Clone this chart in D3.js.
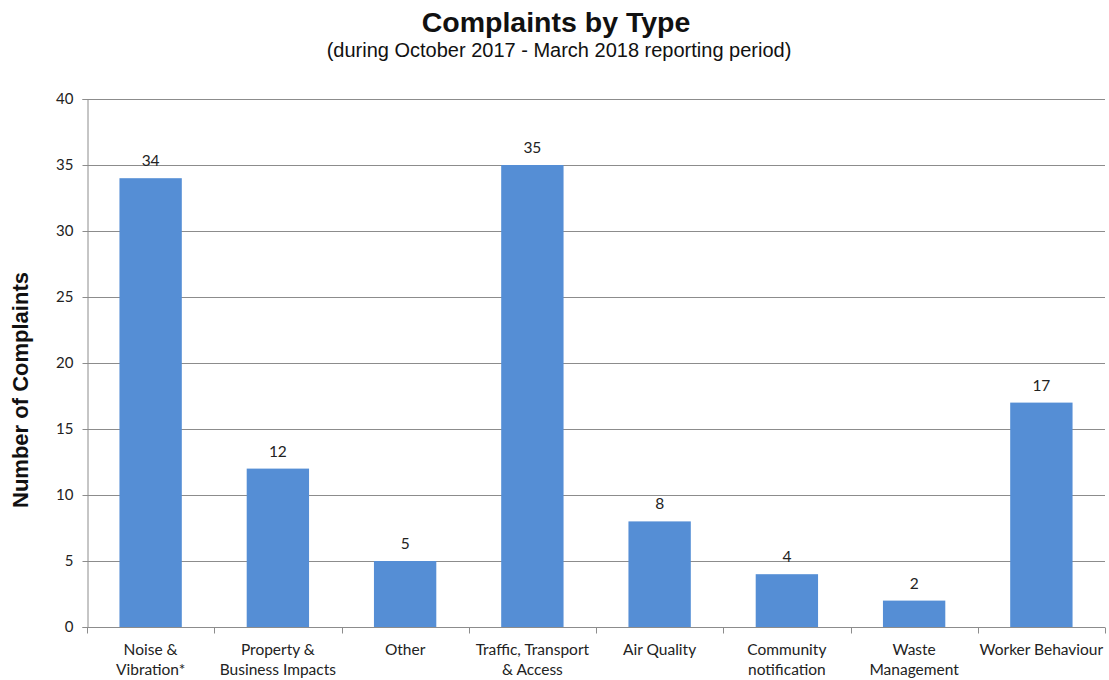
<!DOCTYPE html>
<html>
<head>
<meta charset="utf-8">
<script src="https://cdn.jsdelivr.net/npm/d3@7"></script>
<style>
  html, body { margin: 0; padding: 0; background: #fff; }
  svg { display: block; }
</style>
</head>
<body>
<svg id="chart" width="1109" height="680"></svg>
<script>
// Complaint categories (two-line labels) and counts
const categories = [
  ["Noise &", "Vibration*"],
  ["Property &", "Business Impacts"],
  ["Other"],
  ["Traffic, Transport", "& Access"],
  ["Air Quality"],
  ["Community", "notification"],
  ["Waste", "Management"],
  ["Worker Behaviour"]
];
const counts = [34, 12, 5, 35, 8, 4, 2, 17];
const yTicks = [0, 5, 10, 15, 20, 25, 30, 35, 40];

const titleText = "Complaints by Type";
const subtitleText = "(during October 2017 - March 2018 reporting period)";
const yAxisTitle = "Number of Complaints";

const svg = d3.select("#chart");
const margin = { left: 87, right: 4, top: 99, bottom: 53 };
const W = 1109, H = 680;
const labelFont = "Lato, 'Open Sans', sans-serif";
const headFont = "'Liberation Sans', Arial, sans-serif";

const keys = categories.map((c, i) => i);
const x = d3.scaleBand().domain(keys)
  .range([margin.left, W - margin.right])
  .paddingInner(0.51).paddingOuter(0.255);
const y = d3.scaleLinear().domain([0, 40]).range([H - margin.bottom, margin.top]);

// Horizontal gridlines
svg.append("g")
  .selectAll("line")
  .data(yTicks.filter(t => t > 0))
  .join("line")
  .attr("x1", margin.left).attr("x2", W - margin.right)
  .attr("y1", d => Math.round(y(d)) + 0.5).attr("y2", d => Math.round(y(d)) + 0.5)
  .attr("stroke", "#8c8c8c").attr("stroke-width", 1);

// Bars with a faint soft edge
const defs = svg.append("defs");
defs.append("filter").attr("id", "soft")
  .append("feGaussianBlur").attr("stdDeviation", 0.6);

svg.append("g")
  .selectAll("rect")
  .data(counts)
  .join("rect")
  .attr("x", (d, i) => x(i))
  .attr("width", x.bandwidth())
  .attr("y", d => y(d))
  .attr("height", d => y(0) - y(d))
  .attr("fill", "#558ed5")
  .attr("filter", "url(#soft)");

// Value labels
svg.append("g")
  .selectAll("text")
  .data(counts)
  .join("text")
  .attr("x", (d, i) => x(i) + x.bandwidth() / 2)
  .attr("y", d => y(d) - 12)
  .attr("text-anchor", "middle")
  .attr("font-family", labelFont)
  .attr("font-size", 15.5)
  .attr("fill", "#222")
  .text(d => d);

// Y axis
const yAxis = d3.axisLeft(y).tickValues(yTicks).tickSize(5).tickPadding(9);
const gy = svg.append("g")
  .attr("transform", `translate(${margin.left + 0.5},0)`)
  .call(yAxis);
gy.select(".domain").attr("stroke", "#8c8c8c");
gy.selectAll(".tick line").attr("stroke", "#8c8c8c");
gy.selectAll(".tick text")
  .attr("font-family", labelFont)
  .attr("font-size", 15)
  .attr("fill", "#222");

// X axis: ticks at band boundaries
const y0 = Math.round(y(0)) + 0.5;
const gx = svg.append("g");
gx.append("line")
  .attr("x1", margin.left).attr("x2", W - margin.right)
  .attr("y1", y0).attr("y2", y0)
  .attr("stroke", "#8c8c8c");
const step = x.step();
const boundaries = d3.range(categories.length + 1).map(i => margin.left + i * step);
gx.selectAll("line.tk")
  .data(boundaries)
  .join("line")
  .attr("class", "tk")
  .attr("x1", d => Math.round(d) + 0.5).attr("x2", d => Math.round(d) + 0.5)
  .attr("y1", y0).attr("y2", y0 + 6)
  .attr("stroke", "#8c8c8c");

// Category labels
const catText = gx.selectAll("text.cat")
  .data(categories)
  .join("text")
  .attr("class", "cat")
  .attr("x", (d, i) => x(i) + x.bandwidth() / 2)
  .attr("y", y0 + 27)
  .attr("text-anchor", "middle")
  .attr("font-family", labelFont)
  .attr("font-size", 15.5)
  .attr("fill", "#222");
catText.selectAll("tspan")
  .data(d => d)
  .join("tspan")
  .attr("x", function () { return d3.select(this.parentNode).attr("x"); })
  .attr("dy", (d, i) => i === 0 ? 0 : 20)
  .text(d => d);

// Titles
svg.append("text")
  .attr("x", 556).attr("y", 32)
  .attr("text-anchor", "middle")
  .attr("font-family", headFont)
  .attr("font-weight", "bold")
  .attr("font-size", 28.5)
  .attr("fill", "#111")
  .text(titleText);
svg.append("text")
  .attr("x", 559).attr("y", 57)
  .attr("text-anchor", "middle")
  .attr("font-family", headFont)
  .attr("font-size", 20)
  .attr("fill", "#111")
  .text(subtitleText);

svg.append("text")
  .attr("transform", `translate(28,390) rotate(-90)`)
  .attr("text-anchor", "middle")
  .attr("font-family", headFont)
  .attr("font-weight", "bold")
  .attr("font-size", 22)
  .attr("fill", "#111")
  .text(yAxisTitle);
</script>
</body>
</html>
